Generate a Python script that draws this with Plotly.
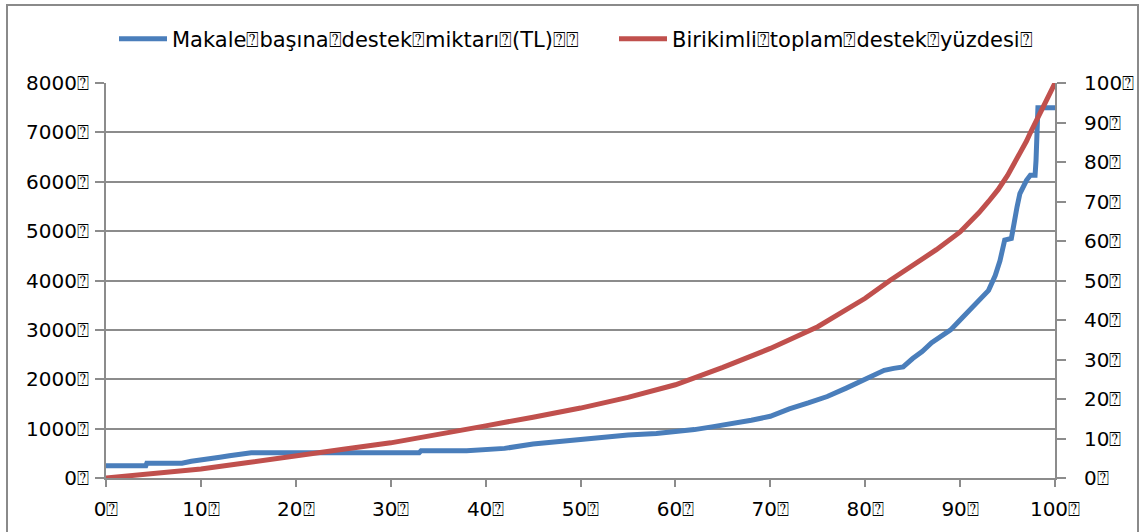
import plotly.graph_objects as go

# Percentile of articles (x) and support amount per article (TL), sorted ascending
blue_x = [0, 4.2, 4.3, 8, 9, 10, 11, 12, 13, 14, 15.3, 33, 33.2, 38, 40, 42, 45, 47, 50,
          52, 55, 58, 60, 62, 64, 66, 68, 70, 72, 74, 76, 78, 80, 82, 83, 84, 85, 86, 87,
          88, 89, 90, 91, 92, 93, 93.7, 94.2, 94.7, 95.4, 96, 96.3, 97, 97.4, 97.9, 98,
          98.2, 100]
blue_y = [250, 250, 300, 300, 340, 360, 390, 420, 450, 480, 510, 510, 550, 550, 575, 600,
          690, 730, 790, 820, 870, 900, 930, 980, 1040, 1100, 1170, 1250, 1400, 1520, 1650,
          1820, 1990, 2180, 2220, 2250, 2420, 2560, 2740, 2880, 3000, 3200, 3400, 3600,
          3800, 4100, 4400, 4820, 4850, 5490, 5760, 6030, 6130, 6130, 6430, 7500, 7500]

# Cumulative share of total support (%)
red_x = [0, 5, 10, 15, 20, 25, 30, 35, 40, 45, 50, 55, 60, 65, 70, 75, 80, 82.6, 85,
         87.5, 90, 91, 92, 93, 94, 95, 96, 97, 97.4, 98, 98.5, 99, 99.5, 100]
red_y = [0, 1.1, 2.3, 3.9, 5.7, 7.3, 8.9, 10.9, 13.2, 15.4, 17.7, 20.4, 23.6, 28.0, 32.8,
         38.3, 45.5, 50, 53.8, 57.8, 62.3, 64.6, 67.2, 70.0, 73.0, 76.6, 80.7, 85.3,
         87.4, 90.3, 92.5, 94.5, 97, 100]

Q = "\u2370"
name_blue = f"Makale{Q}başına{Q}destek{Q}miktarı{Q}(TL){Q}{Q}"
name_red = f"Birikimli{Q}toplam{Q}destek{Q}yüzdesi{Q}"

left_vals = list(range(0, 8001, 1000))
left_text = [f"{v}{Q}" for v in left_vals]
right_vals = list(range(0, 101, 10))
right_text = [f"{v}{Q}" for v in right_vals]
x_vals = list(range(0, 101, 10))
x_text = [f"{v}{Q}" for v in x_vals]

FONT = "DejaVu Sans"
GRID = "#8c8c8c"

fig = go.Figure()
fig.add_trace(go.Scatter(x=blue_x, y=blue_y, mode="lines", name=name_blue,
                         legend="legend",
                         line=dict(color="#4a7ebb", width=5)))
fig.add_trace(go.Scatter(x=red_x, y=red_y, mode="lines", name=name_red, yaxis="y2",
                         legend="legend2",
                         line=dict(color="#c0504d", width=5)))

L, R, T, B = 106, 1055, 83, 478.5
W, H = 1141, 532

legend_common = dict(orientation="h", xref="container", yref="container",
                     xanchor="left", yanchor="middle", y=1 - 39 / H,
                     font=dict(family=FONT, size=21, color="black"),
                     itemwidth=48, bgcolor="rgba(0,0,0,0)", borderwidth=0)

fig.update_layout(
    width=W, height=H,
    margin=dict(l=L, r=W - R, t=T, b=H - B, pad=0, autoexpand=False),
    paper_bgcolor="white", plot_bgcolor="white",
    font=dict(family=FONT, size=20, color="black"),
    showlegend=True,
    legend=dict(x=114 / W, **legend_common),
    legend2=dict(x=614 / W, **legend_common),
    xaxis=dict(range=[0, 100], tickvals=x_vals, ticktext=x_text, showgrid=False,
               zeroline=False, showline=True, linecolor=GRID, linewidth=2,
               ticks="outside", ticklen=7, tickcolor=GRID, tickwidth=2,
               ticklabelstandoff=5, tickfont=dict(size=20)),
    yaxis=dict(range=[0, 8000], tickvals=left_vals, ticktext=left_text,
               showgrid=True, gridcolor=GRID, gridwidth=2, zeroline=False,
               showline=True, linecolor=GRID, linewidth=2,
               ticks="outside", ticklen=9, tickcolor=GRID, tickwidth=2,
               ticklabelstandoff=2, tickfont=dict(size=20)),
    yaxis2=dict(range=[0, 100], tickvals=right_vals, ticktext=right_text,
                overlaying="y", side="right", showgrid=False, zeroline=False,
                showline=True, linecolor=GRID, linewidth=2,
                ticks="outside", ticklen=9, tickcolor=GRID, tickwidth=2,
                ticklabelstandoff=14, tickfont=dict(size=20)),
)

# Outer chart frame
fig.add_shape(type="rect", xref="paper", yref="paper",
              x0=(7 - L) / (R - L), x1=(1138 - L) / (R - L),
              y0=(B - 560) / (B - T), y1=(B - 5) / (B - T),
              line=dict(color="#8a8a8a", width=2), fillcolor="rgba(0,0,0,0)",
              layer="below")

fig.write_html("out.html")
